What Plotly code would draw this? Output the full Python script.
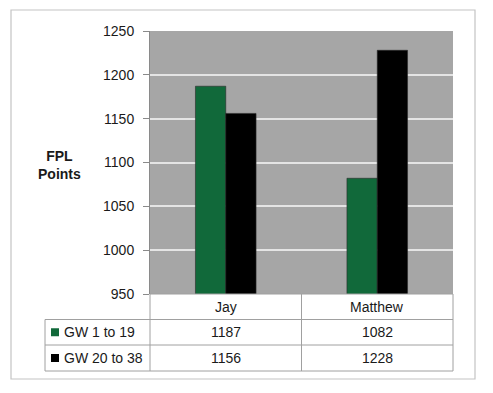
import plotly.graph_objects as go

W, H = 493, 393

categories = ["Jay", "Matthew"]
series_names = ["GW 1 to 19", "GW 20 to 38"]
gw1_19 = [1187, 1082]
gw20_38 = [1156, 1228]
y_ticks = [950, 1000, 1050, 1100, 1150, 1200, 1250]
colors = ["#11693a", "#000000"]

FONT = "Liberation Sans"


def px(x):
    return x / W


def py(y):
    return 1 - y / H


# plot area pixels
PL, PR, PT, PB = 150, 453, 31, 294
LEG_L = 45
MID = (PL + PR) / 2
ROW = [294, 319.5, 345, 371]

fig = go.Figure()
for name, vals, c in zip(series_names, [gw1_19, gw20_38], colors):
    fig.add_trace(go.Bar(
        x=categories, y=vals, name=name,
        marker=dict(color=c, line=dict(color="#2a2a2a", width=0.6)),
    ))

shapes = []
line_c = "#a0a0a0"
# outer border
shapes.append(dict(type="rect", xref="paper", yref="paper",
                   x0=px(11), x1=px(475), y0=py(379), y1=py(10),
                   line=dict(color="#c4c4c4", width=1.2), layer="below"))
# table horizontal lines
shapes.append(dict(type="line", xref="paper", yref="paper", x0=px(PL), x1=px(PR),
                   y0=py(ROW[0]), y1=py(ROW[0]), line=dict(color=line_c, width=1)))
for r in ROW[1:]:
    shapes.append(dict(type="line", xref="paper", yref="paper", x0=px(LEG_L), x1=px(PR),
                       y0=py(r), y1=py(r), line=dict(color=line_c, width=1)))
# table vertical lines
for xv in [PL, MID, PR]:
    shapes.append(dict(type="line", xref="paper", yref="paper", x0=px(xv), x1=px(xv),
                       y0=py(ROW[0]), y1=py(ROW[3]), line=dict(color=line_c, width=1)))
shapes.append(dict(type="line", xref="paper", yref="paper", x0=px(LEG_L), x1=px(LEG_L),
                   y0=py(ROW[1]), y1=py(ROW[3]), line=dict(color=line_c, width=1)))
# legend keys
for i, c in enumerate(colors):
    yc = (ROW[i + 1] + ROW[i + 2]) / 2
    shapes.append(dict(type="rect", xref="paper", yref="paper",
                       x0=px(51), x1=px(59), y0=py(yc + 4), y1=py(yc - 4),
                       fillcolor=c, line=dict(width=0)))

annotations = []
tf = dict(family=FONT, size=14, color="#1a1a1a")
for i, cat in enumerate(categories):
    xc = PL + (PR - PL) * (i + 0.5) / 2
    annotations.append(dict(x=px(xc), y=py((ROW[0] + ROW[1]) / 2), xref="paper", yref="paper",
                            text=cat, showarrow=False, font=tf, xanchor="center", yanchor="middle"))
for r, (name, vals) in enumerate(zip(series_names, [gw1_19, gw20_38])):
    yc = (ROW[r + 1] + ROW[r + 2]) / 2
    annotations.append(dict(x=px(62), y=py(yc), xref="paper", yref="paper",
                            text=name, showarrow=False, font=tf, xanchor="left", yanchor="middle"))
    for i, v in enumerate(vals):
        xc = PL + (PR - PL) * (i + 0.5) / 2
        annotations.append(dict(x=px(xc), y=py(yc), xref="paper", yref="paper",
                                text=str(v), showarrow=False, font=tf,
                                xanchor="center", yanchor="middle"))
annotations.append(dict(x=px(59), y=py(165), xref="paper", yref="paper",
                        text="<b>FPL<br>Points</b>", showarrow=False,
                        font=dict(family=FONT, size=14, color="#1a1a1a"),
                        xanchor="center", yanchor="middle", align="center"))

fig.update_layout(
    width=W, height=H,
    autosize=False,
    margin=dict(l=0, r=0, t=0, b=0, autoexpand=False),
    paper_bgcolor="white",
    plot_bgcolor="#a6a6a6",
    barmode="group",
    bargap=0.6,
    bargroupgap=0,
    showlegend=False,
    hovermode=False,
    shapes=shapes,
    annotations=annotations,
    xaxis=dict(domain=[px(PL), px(PR)], range=[-0.5, 1.5], showticklabels=False,
               showgrid=False, zeroline=False, ticks="", automargin=False),
    yaxis=dict(domain=[py(PB), py(PT)], range=[950, 1250], tickvals=y_ticks,
               showgrid=True, gridcolor="#e4e4e4", gridwidth=1.5, zeroline=False,
               showline=True, linecolor="#8a8a8a", linewidth=1, automargin=False,
               ticks="outside", ticklen=6, tickcolor="#8a8a8a",
               tickfont=dict(family=FONT, size=14, color="#1a1a1a"), ticklabelstandoff=6),
    font=dict(family=FONT),
)

fig.write_html("out.html", config={"displayModeBar": False},
               post_script="document.body.style.margin='0';")
